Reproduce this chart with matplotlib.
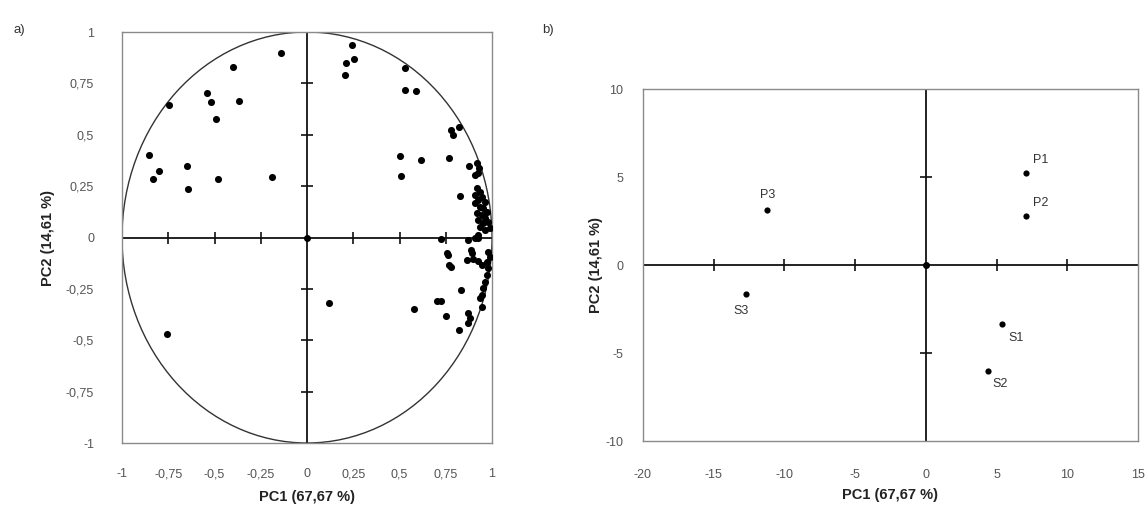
import numpy as np
import matplotlib
matplotlib.use("Agg")
import matplotlib.pyplot as plt
from matplotlib.patches import Circle

plt.rcParams['font.family'] = ['Liberation Sans', 'DejaVu Sans']
plt.rcParams['axes.unicode_minus'] = False

# ---------------- data: panel a (loadings) ----------------
loading_pc1 = [
    -0.14, -0.40, -0.54, -0.52, -0.37, -0.49, -0.745, -0.855, -0.80, -0.83, -0.65, -0.645, -0.48, -0.19,
    -0.755, 0.12,
    0.245, 0.21, 0.255, 0.205, 0.53, 0.53, 0.59, 0.505, 0.51, 0.615, 0.765, 0.78, 0.82, 0.79, 0.825, 0.875,
    0.917, 0.93, 0.908, 0.926, 0.917, 0.935, 0.908, 0.944, 0.926, 0.962, 0.908, 0.935, 0.953, 0.971,
    0.917, 0.944, 0.962, 0.926, 0.953, 0.98, 0.989, 0.935, 0.962, 0.926, 0.908,
    0.725, 0.872, 0.926,
    0.755, 0.77, 0.764, 0.777, 0.886, 0.89, 0.863, 0.899, 0.926, 0.944, 0.971, 0.98, 0.989, 0.98,
    0.971, 0.962, 0.953, 0.944, 0.935, 0.83, 0.944, 0.872, 0.88, 0.872, 0.58, 0.70, 0.725, 0.75, 0.82,
]
loading_pc2 = [
    0.90, 0.83, 0.705, 0.66, 0.665, 0.575, 0.645, 0.40, 0.325, 0.285, 0.35, 0.235, 0.285, 0.295,
    -0.47, -0.32,
    0.935, 0.85, 0.87, 0.79, 0.825, 0.72, 0.715, 0.395, 0.30, 0.375, 0.385, 0.525, 0.54, 0.50, 0.20, 0.35,
    0.361, 0.337, 0.304, 0.312, 0.239, 0.223, 0.207, 0.199, 0.182, 0.174, 0.166, 0.15, 0.142, 0.126,
    0.118, 0.109, 0.093, 0.085, 0.069, 0.077, 0.045, 0.053, 0.036, 0.012, -0.004,
    -0.005, -0.012, -0.001,
    -0.075, -0.135, -0.085, -0.142, -0.061, -0.077, -0.109, -0.105, -0.114, -0.134, -0.118, -0.069, -0.093, -0.15,
    -0.182, -0.215, -0.247, -0.28, -0.296, -0.255, -0.337, -0.369, -0.393, -0.418, -0.35, -0.31, -0.31, -0.38, -0.45,
]
a_ticks = [-1, -0.75, -0.5, -0.25, 0, 0.25, 0.5, 0.75, 1]
a_ticklabels = ['-1', '-0,75', '-0,5', '-0,25', '0', '0,25', '0,5', '0,75', '1']

# ---------------- data: panel b (scores) ----------------
sample_names = ['P1', 'P2', 'P3', 'S1', 'S2', 'S3']
score_pc1 = [7.1, 7.1, -11.2, 5.4, 4.4, -12.7]
score_pc2 = [5.2, 2.8, 3.1, -3.35, -6.0, -1.65]
b_xticks = [-20, -15, -10, -5, 0, 5, 10, 15]
b_yticks = [-10, -5, 0, 5, 10]

xlabel = 'PC1 (67,67 %)'
ylabel = 'PC2 (14,61 %)'

# label offsets in points (style)
label_style = {
    'P1': ((4.5, 9.5), 'left'),
    'P2': ((5.0, 9.5), 'left'),
    'P3': ((0.0, 11.0), 'center'),
    'S1': ((4.5, -10.0), 'left'),
    'S2': ((3.0, -10.0), 'left'),
    'S3': ((-3.5, -12.0), 'center'),
}

W, H = 1147, 511
fig = plt.figure(figsize=(W / 100, H / 100), dpi=100)
fig.patch.set_facecolor('white')

tick_color = '#555555'
spine_color = '#8a8a8a'


def style_box(ax):
    for s in ax.spines.values():
        s.set_color(spine_color)
        s.set_linewidth(1.0)
    ax.tick_params(length=0, colors=tick_color, labelsize=9)


# ---- panel a ----
axa = fig.add_axes([122 / W, 1 - 443 / H, 370 / W, 411 / H])
axa.set_xlim(-1, 1)
axa.set_ylim(-1, 1)
style_box(axa)
axa.tick_params(axis='x', pad=18)
axa.tick_params(axis='y', pad=20)
axa.set_xticks(a_ticks)
axa.set_xticklabels(a_ticklabels)
axa.set_yticks(a_ticks)
axa.set_yticklabels(a_ticklabels)
axa.add_patch(Circle((0, 0), 1, fill=False, lw=1.0, edgecolor='#333333', zorder=2))
axa.axhline(0, color='#111111', lw=1.3, zorder=2)
axa.axvline(0, color='#111111', lw=1.3, zorder=2)
inner = [t for t in a_ticks if t not in (-1, 0, 1)]
axa.plot(inner, np.zeros(len(inner)), ls='none', marker='|', ms=8, mew=1.2, color='#111111', zorder=2)
axa.plot(np.zeros(len(inner)), inner, ls='none', marker='_', ms=8, mew=1.2, color='#111111', zorder=2)
axa.plot([0], [0], 'o', ms=4, color='black', zorder=3)
axa.scatter(loading_pc1, loading_pc2, s=26, color='black', zorder=4, linewidths=0)
axa.set_xlabel(xlabel, fontsize=10.5, fontweight='bold', color='#222222', labelpad=7)
axa.set_ylabel(ylabel, fontsize=10.5, fontweight='bold', color='#222222', labelpad=8)
fig.text(13 / W, 1 - 30 / H, 'a)', fontsize=9.5, color='#333333', va='center', ha='left')

# ---- panel b ----
axb = fig.add_axes([643 / W, 1 - 441 / H, 495 / W, 352 / H])
axb.set_xlim(-20, 15)
axb.set_ylim(-10, 10)
style_box(axb)
axb.tick_params(axis='x', pad=20)
axb.tick_params(axis='y', pad=14)
axb.set_xticks(b_xticks)
axb.set_yticks(b_yticks)
axb.axhline(0, color='#111111', lw=1.3, zorder=2)
axb.axvline(0, color='#111111', lw=1.3, zorder=2)
bx_inner = [t for t in b_xticks if t not in (b_xticks[0], 0, b_xticks[-1])]
by_inner = [t for t in b_yticks if t not in (b_yticks[0], 0, b_yticks[-1])]
axb.plot(bx_inner, np.zeros(len(bx_inner)), ls='none', marker='|', ms=8, mew=1.2, color='#111111', zorder=2)
axb.plot(np.zeros(len(by_inner)), by_inner, ls='none', marker='_', ms=8, mew=1.2, color='#111111', zorder=2)
axb.plot([0], [0], 'o', ms=4, color='black', zorder=3)
axb.scatter(score_pc1, score_pc2, s=20, color='black', zorder=4, linewidths=0)
for name, x, y in zip(sample_names, score_pc1, score_pc2):
    off, ha = label_style[name]
    axb.annotate(name, (x, y), xytext=off, textcoords='offset points',
                 ha=ha, va='center', fontsize=9, color='#333333')
axb.set_xlabel(xlabel, fontsize=10.5, fontweight='bold', color='#222222', labelpad=5)
axb.set_ylabel(ylabel, fontsize=10.5, fontweight='bold', color='#222222', labelpad=2)
fig.text(542 / W, 1 - 30 / H, 'b)', fontsize=9.5, color='#333333', va='center', ha='left')

fig.savefig('out.png', dpi=100, facecolor='white')
